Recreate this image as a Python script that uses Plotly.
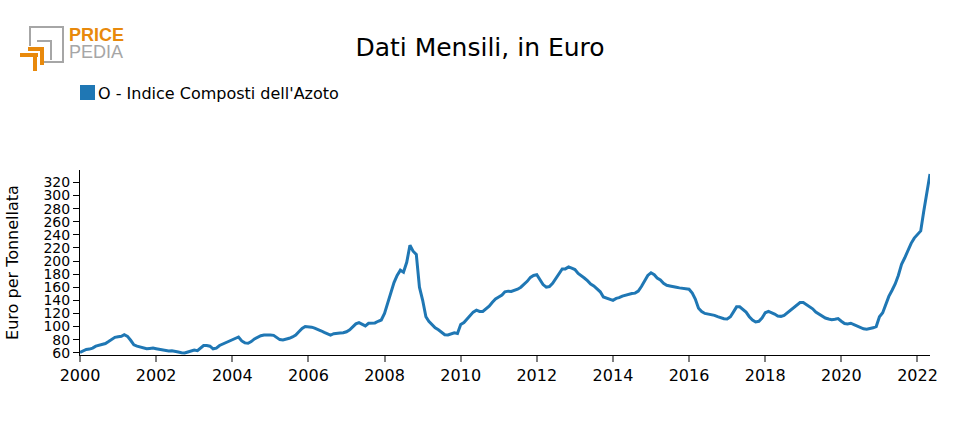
import pandas as pd
import plotly.graph_objects as go

# ---- data (monthly, Jan 2000 .. May 2022) ----
series_name = "O - Indice Composti dell'Azoto"
title_text = "Dati Mensili, in Euro"
y_title = "Euro per Tonnellata"
start_month = "2000-01-01"

v2000 = [60.5, 63, 65, 65.5, 67, 70, 71.5, 72.5, 74, 77, 80, 83.5]
v2001 = [84.5, 85, 87.5, 85, 79, 72, 70, 69, 67, 66, 66.5, 67]
v2002 = [66, 65, 63.5, 63, 62.5, 63, 62.5, 61, 60, 59.5, 61, 63]
v2003 = [64, 63, 67, 71, 71, 70, 66, 67, 71, 73, 75, 77]
v2004 = [80, 82, 84, 78, 75, 74.5, 77, 81, 84, 86, 87, 87.5]
v2005 = [87, 86.5, 83, 80, 79.5, 80.5, 82, 84, 87, 92, 97, 100]
v2006 = [100, 99, 97.5, 96, 93.5, 91, 89, 87, 89, 90, 90, 90.5]
v2007 = [92, 95, 99, 104, 106, 103, 101, 105, 105.5, 105.5, 108, 110]
v2008 = [120, 137, 153, 167, 178, 186, 183, 198, 224, 215, 210, 160]
v2009 = [140, 115, 108, 103, 98, 95, 91, 87.5, 87, 89, 90.5, 89.5]
v2010 = [103, 106, 111, 117, 122, 125, 123, 123, 127, 131, 137, 142]
v2011 = [145, 148, 153, 154, 153.5, 155, 157, 160, 164, 169, 175, 178]
v2012 = [179, 172, 164, 160, 161, 166, 173, 182, 188, 188, 191, 189]
v2013 = [187, 181, 177, 174, 170, 165, 162, 158, 153, 145, 143, 141.5]
v2014 = [140, 143, 144, 146.5, 148, 150, 150.5, 151, 154, 161, 170, 178]
v2015 = [182, 179, 174, 171, 166, 163, 162, 161.5, 160, 159, 158, 157.5]
v2016 = [157, 151, 142, 128, 123, 120, 119, 119, 117, 115, 113, 112]
v2017 = [111.5, 115, 122, 130, 130, 126, 122, 115, 110, 107, 108, 113]
v2018 = [121, 123, 121.5, 119, 116, 115.5, 117, 121, 125, 129, 133, 136.5]
v2019 = [136.5, 133, 129.5, 127, 122, 119, 116, 113, 111.5, 110.5, 111, 112]
v2020 = [108, 104.5, 104, 105, 103, 100.5, 98, 96.5, 96, 96.5, 98, 100]
v2021 = [115, 121, 133, 146, 155, 165, 178, 195, 205, 217, 227, 235]
v2022 = [241, 246, 275, 305, 333]

values = (v2000 + v2001 + v2002 + v2003 + v2004 + v2005 + v2006 + v2007 +
          v2008 + v2009 + v2010 + v2011 + v2012 + v2013 + v2014 + v2015 +
          v2016 + v2017 + v2018 + v2019 + v2020 + v2021 + v2022)
dates = pd.date_range(start_month, periods=len(values), freq="MS")

line_color = "#1f77b4"
font_family = "DejaVu Sans, Verdana, sans-serif"

fig = go.Figure()
fig.add_trace(go.Scatter(
    x=dates, y=values, mode="lines", name=series_name,
    line=dict(color=line_color, width=3), showlegend=False,
))

fig.update_layout(
    width=960, height=430,
    margin=dict(l=80, r=30, t=170, b=75),
    paper_bgcolor="white", plot_bgcolor="white",
    font=dict(family=font_family, color="black", size=15),
    title=dict(text=title_text, x=0.5, xref="container", xanchor="center",
               y=1 - 47 / 430, yref="container", yanchor="middle",
               font=dict(size=25, color="black")),
    xaxis=dict(
        type="date", range=[dates[0], dates[-1]],
        tick0="2000-01-01", dtick="M24", tickformat="%Y",
        showgrid=False, zeroline=False,
        showline=True, linecolor="black", linewidth=1,
        ticks="outside", ticklen=6, tickwidth=2, tickcolor="#808080",
        tickfont=dict(size=16),
    ),
    yaxis=dict(
        range=[56.5, 339], tick0=60, dtick=20,
        showgrid=False, zeroline=False,
        showline=True, linecolor="black", linewidth=1,
        ticks="outside", ticklen=6, tickwidth=1, tickcolor="black",
        tickfont=dict(size=14),
        title=dict(text=y_title, font=dict(size=16), standoff=20),
    ),
)

# legend (square swatch + label)
fig.add_shape(type="rect", xref="paper", yref="paper",
              x0=0, x1=15 / 850, y0=(355 - 100) / 185, y1=(355 - 85) / 185,
              fillcolor=line_color, line=dict(width=0))
fig.add_annotation(text=series_name, xref="paper", yref="paper",
                   x=16 / 850, y=(355 - 93) / 185, xanchor="left", yanchor="middle",
                   showarrow=False, font=dict(size=16))

# logo (PRICE / PEDIA)
def px_rect(x0, y0, x1, y1, color):
    fig.add_shape(type="rect", xref="paper", yref="paper",
                  x0=(x0 - 80) / 850, x1=(x1 - 80) / 850,
                  y0=(355 - y1) / 185, y1=(355 - y0) / 185,
                  fillcolor=color, line=dict(width=0), layer="above")

grey = "#a6a6a6"
orange = "#e8890c"
# grey frame
px_rect(29, 26, 64, 28, grey)
px_rect(62, 26, 64, 63, grey)
px_rect(44, 61, 64, 63, grey)
px_rect(29, 26, 31, 46, grey)
# inner grey corner
px_rect(37, 40, 52, 42, grey)
px_rect(50, 40, 52, 60, grey)
# orange brackets
px_rect(28, 47, 44, 51, orange)
px_rect(40, 47, 44, 65, orange)
px_rect(20, 53, 38, 57, orange)
px_rect(33, 53, 37, 71, orange)

fig.add_annotation(text="<b>PRICE</b>", xref="paper", yref="paper",
                   x=(67 - 80) / 850, y=(355 - 35) / 185, xanchor="left", yanchor="middle",
                   showarrow=False,
                   font=dict(size=18, color=orange, family="Liberation Sans, Arial, sans-serif"))
fig.add_annotation(text="PEDIA", xref="paper", yref="paper",
                   x=(67 - 80) / 850, y=(355 - 52) / 185, xanchor="left", yanchor="middle",
                   showarrow=False,
                   font=dict(size=18, color=grey, family="Liberation Sans, Arial, sans-serif"))

fig.write_html("out.html")
